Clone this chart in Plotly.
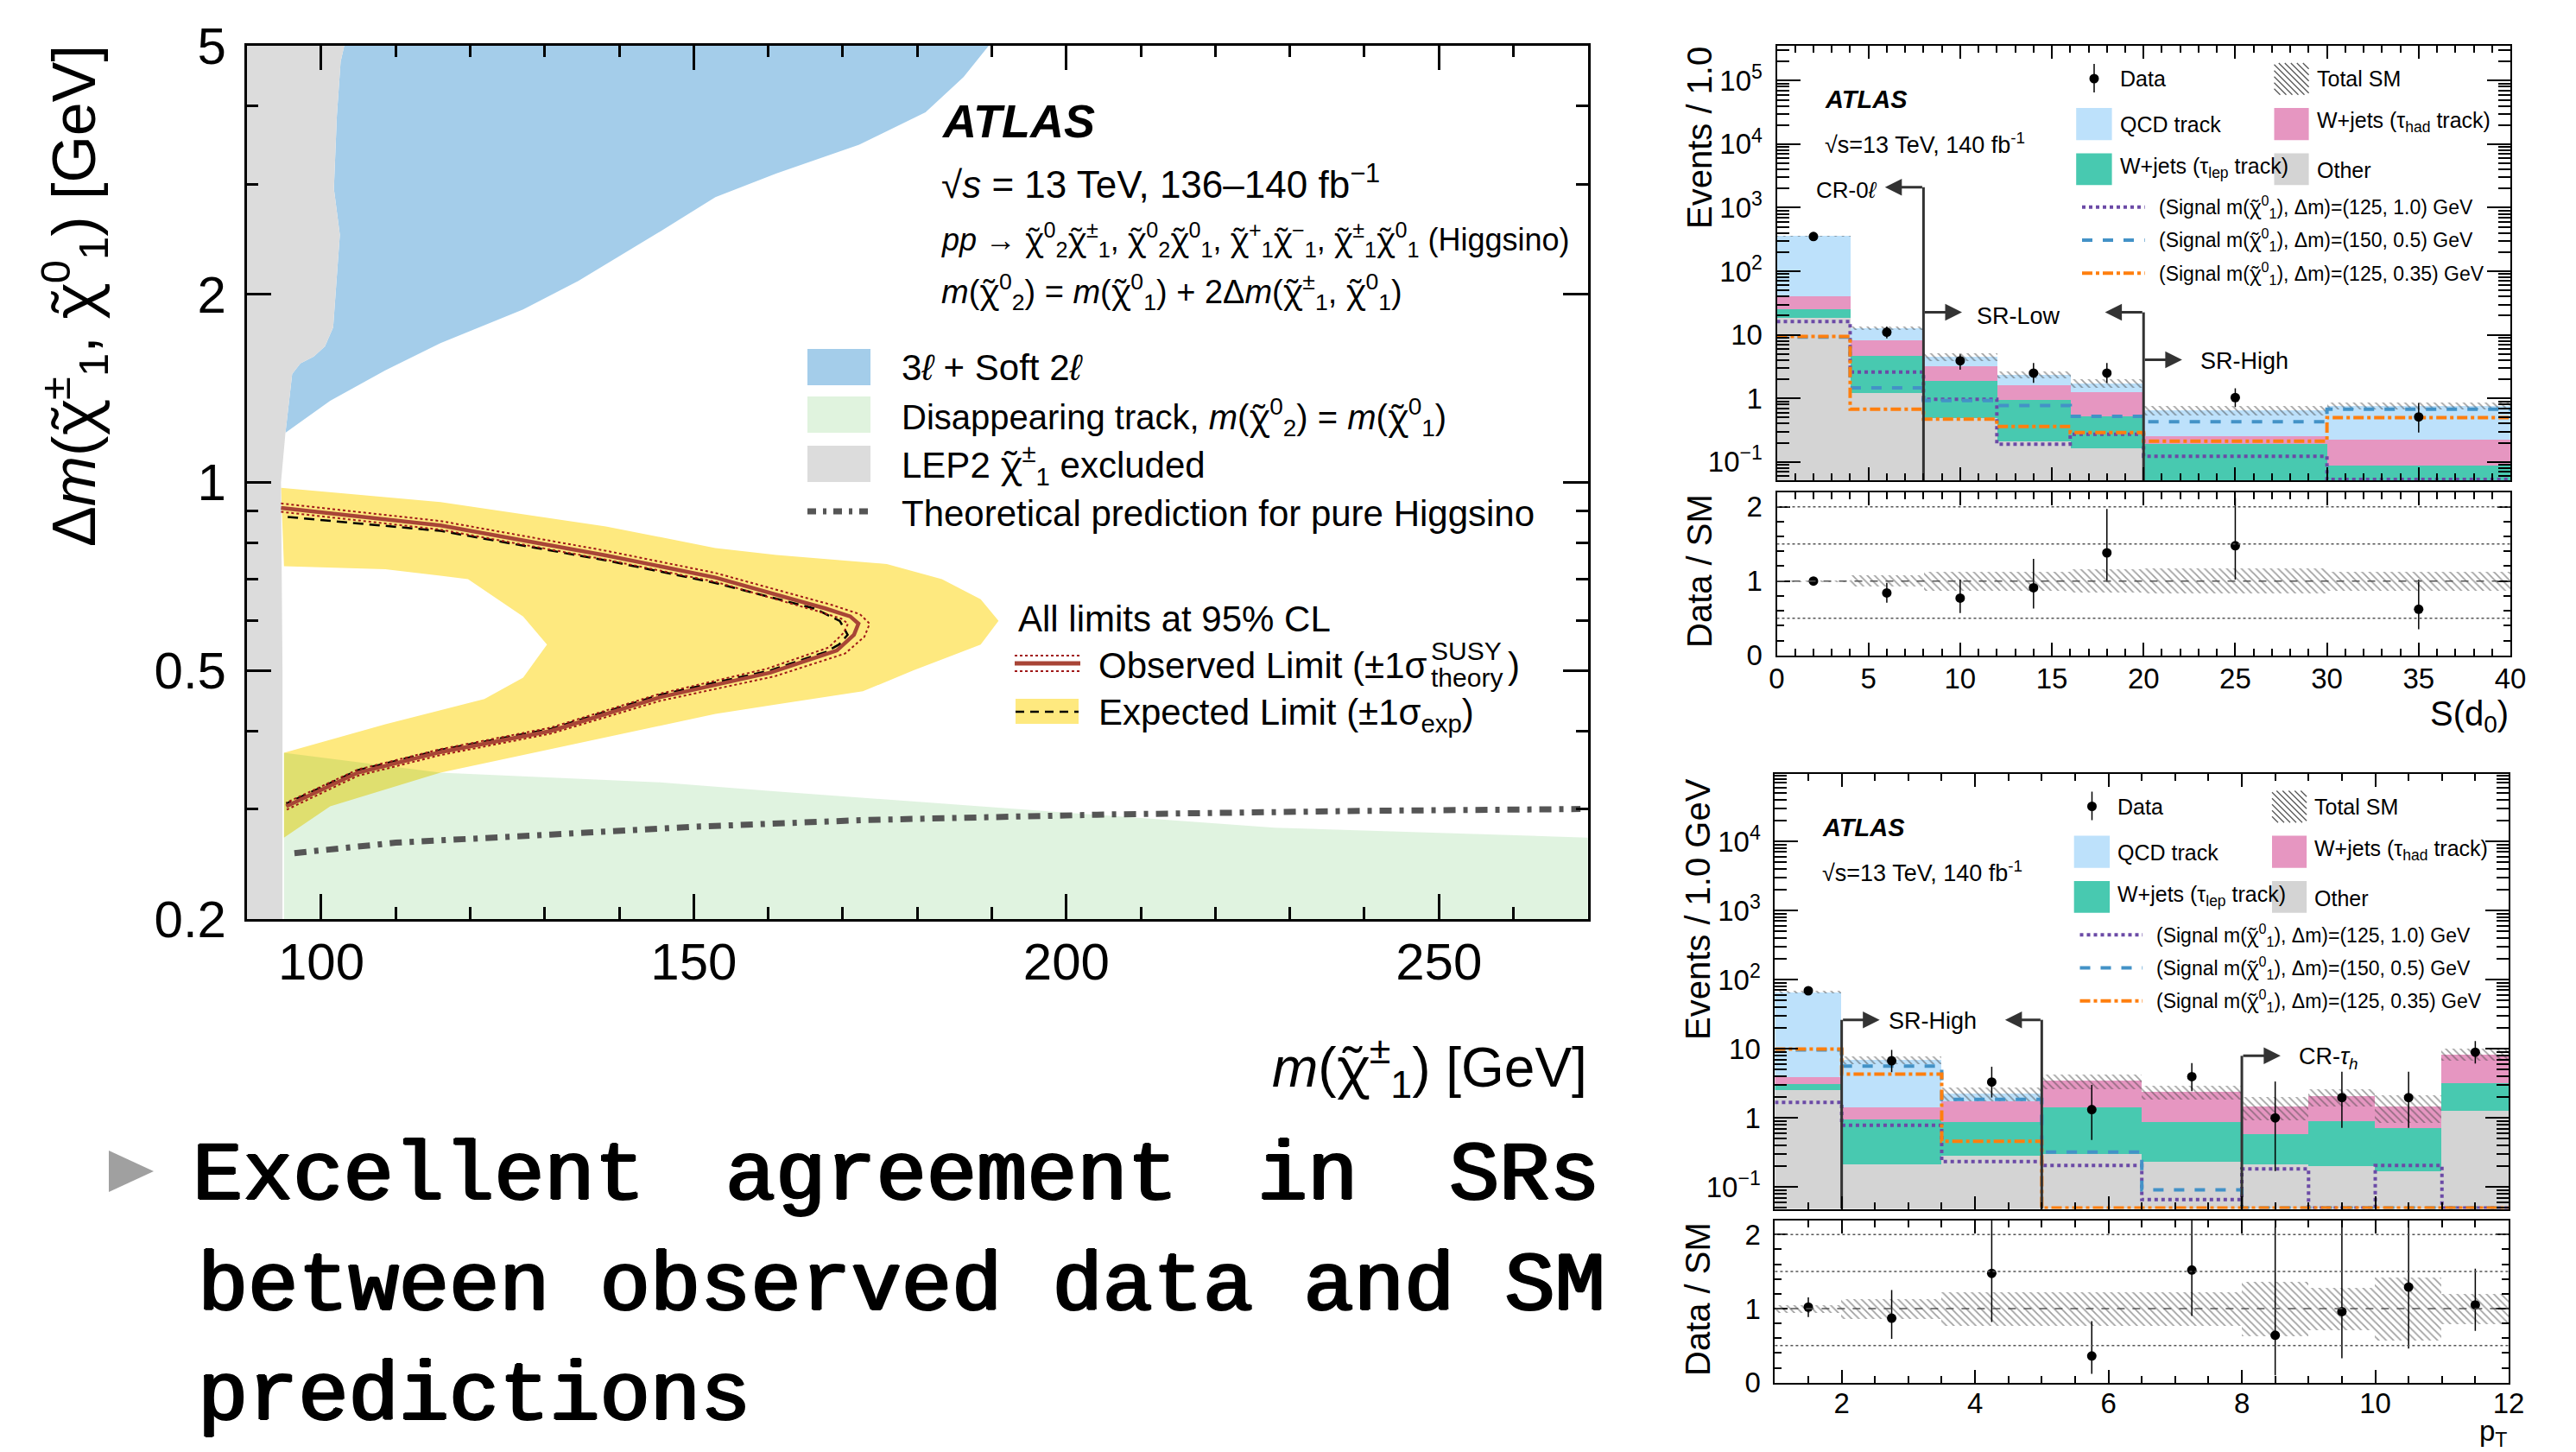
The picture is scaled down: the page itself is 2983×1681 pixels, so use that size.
import math
import plotly.graph_objects as go

W, H = 2983, 1681
FONT = "Liberation Sans, Arial, Helvetica, sans-serif"
MONO = "Liberation Mono, Courier New, monospace"


def px(x):
    return x / W


def py(y):
    return 1 - y / H


# ================= Left: exclusion contour data =================
# x: m(chi1+-) [GeV], y: Delta m [GeV]
lep_x = [103.1, 102.6, 102.1, 101.7, 102.5, 101.6, 100.5, 99.0, 97.2, 96.1, 95.2, 94.6, 94.8, 94.8]
lep_y = [5.0, 4.71, 3.86, 2.95, 2.49, 1.77, 1.65, 1.59, 1.55, 1.49, 1.20, 1.0, 0.5, 0.2]

soft_x = [189.6, 186.2, 181.1, 172.2, 161.1, 152.9, 145.5, 134.5, 127.1, 116.0, 108.6, 101.2, 95.2]
soft_y = [5.0, 4.45, 3.91, 3.47, 3.12, 2.86, 2.52, 2.10, 1.89, 1.67, 1.51, 1.35, 1.20]

band_out_x = [94.6, 116.0, 138.2, 152.9, 161.1, 175.9, 183.3, 188.5, 190.9, 188.5, 179.5, 172.7,
              161.1, 152.9, 130.8, 116.0, 101.2, 95.0]
band_out_y = [0.98, 0.93, 0.85, 0.785, 0.765, 0.74, 0.70, 0.65, 0.60, 0.55, 0.50, 0.463,
              0.441, 0.426, 0.374, 0.343, 0.303, 0.27]
band_in_x = [95.0, 108.6, 121.9, 127.1, 130.3, 127.1, 119.7, 108.6, 95.0]
band_in_y = [0.369, 0.41, 0.45, 0.487, 0.55, 0.61, 0.70, 0.726, 0.734]

disp_x = [95.0, 116.0, 145.5, 161.1, 205.0, 228.0, 270.0]
disp_y = [0.369, 0.343, 0.331, 0.32, 0.293, 0.28, 0.27]

theo_x = [96.4, 110.0, 130.8, 150.0, 172.7, 205.4, 240.0, 269.0]
theo_y = [0.255, 0.265, 0.273, 0.281, 0.288, 0.294, 0.298, 0.300]

obs_x = [94.6, 116.0, 138.2, 152.9, 167.7, 171.0, 172.1, 171.5, 169.2, 160.3, 145.5, 130.8, 116.0, 104.9, 95.3]
obs_y = [0.91, 0.853, 0.764, 0.704, 0.628, 0.61, 0.594, 0.57, 0.538, 0.496, 0.453, 0.40, 0.37, 0.343, 0.303]
obs_up_x = [94.6, 116.0, 138.2, 152.9, 168.6, 172.3, 173.6, 172.9, 170.3, 160.8, 145.5, 130.8, 116.0, 104.9, 95.3]
obs_up_y = [0.925, 0.867, 0.777, 0.716, 0.636, 0.615, 0.594, 0.566, 0.532, 0.489, 0.447, 0.396, 0.366, 0.339, 0.299]
obs_dn_x = [94.6, 116.0, 138.2, 152.9, 166.8, 169.8, 170.7, 170.1, 168.1, 159.8, 145.5, 130.8, 116.0, 104.9, 95.3]
obs_dn_y = [0.897, 0.840, 0.752, 0.693, 0.621, 0.605, 0.594, 0.574, 0.544, 0.503, 0.459, 0.405, 0.374, 0.347, 0.307]

exp_x = [95.5, 116.0, 138.2, 152.9, 166.2, 169.6, 170.65, 169.5, 167.7, 160.3, 145.5, 130.8, 116.0, 104.9, 95.3]
exp_y = [0.88, 0.836, 0.75, 0.69, 0.628, 0.60, 0.57, 0.55, 0.535, 0.50, 0.457, 0.403, 0.373, 0.346, 0.306]

# ================= Right top: S(d0) =================
sd0_edges = [0, 4, 8, 12, 16, 20, 30, 40]
sd0_other = [19.0, 1.21, 0.49, 0.21, 0.164, 0.0, 0.0]
sd0_wlep = [7.0, 3.49, 1.40, 0.74, 0.356, 0.195, 0.088]
sd0_whad = [14.7, 3.5, 1.31, 0.66, 0.75, 0.058, 0.14]
sd0_qcd = [322.0, 4.7, 1.35, 0.79, 0.48, 0.41, 0.55]
sd0_relerr = [0.01, 0.075, 0.13, 0.13, 0.155, 0.17, 0.125]
sd0_data_x = [2, 6, 10, 14, 18, 25, 35]
sd0_data = [352, 11.0, 3.9, 2.5, 2.5, 1.03, 0.51]
sd0_data_hi = [372, 13.5, 4.94, 3.6, 3.6, 1.44, 0.85]
sd0_data_lo = [333, 8.8, 2.82, 1.75, 1.75, 0.73, 0.29]
sd0_sig1 = [16.2, 2.6, 0.97, 0.19, 0.272, 0.123, 0.053]
sd0_sig2 = [9.2, 1.47, 0.92, 0.77, 0.52, 0.43, 0.675]
sd0_sig3 = [9.4, 0.675, 0.47, 0.36, 0.29, 0.212, 0.496]
sd0_ratio = [1.0, 0.84, 0.77, 0.91, 1.38, 1.475, 0.62]
sd0_ratio_hi = [1.02, 0.975, 1.02, 1.30, 1.97, 2.12, 1.02]
sd0_ratio_lo = [0.98, 0.71, 0.57, 0.63, 0.99, 1.02, 0.35]
sd0_tickvals = [0, 5, 10, 15, 20, 25, 30, 35, 40]

# ================= Right bottom: pT =================
pt_edges = [1, 2, 3.5, 5, 6.5, 8, 9, 10, 11, 12]
pt_other = [2.55, 0.215, 0.283, 0.30, 0.233, 0.215, 0.205, 0.169, 1.27]
pt_wlep = [0.55, 0.755, 0.60, 1.15, 0.647, 0.371, 0.715, 0.551, 1.93]
pt_whad = [0.85, 0.48, 0.88, 2.02, 1.55, 0.914, 1.15, 0.78, 5.25]
pt_qcd = [63.0, 5.55, 0.54, 0.0, 0.0, 0.0, 0.0, 0.0, 0.0]
pt_relerr = [0.05, 0.13, 0.23, 0.23, 0.23, 0.37, 0.29, 0.43, 0.2]
pt_data_x = [1.5, 2.75, 4.25, 5.75, 7.25, 8.5, 9.5, 10.5, 11.5]
pt_data = [69, 6.7, 3.3, 1.32, 3.95, 1.0, 1.97, 1.97, 8.9]
pt_data_hi = [77, 9.6, 5.5, 3.0, 6.2, 3.36, 4.65, 4.65, 12.9]
pt_data_lo = [62, 4.6, 1.97, 0.48, 2.43, 0.17, 0.72, 0.72, 6.1]
pt_sig1 = [1.68, 0.785, 0.233, 0.205, 0.066, 0.183, 0.05, 0.205, 0.05]
pt_sig2 = [9.6, 5.6, 1.85, 0.32, 0.091, 0.05, 0.05, 0.05, 0.05]
pt_sig3 = [9.9, 4.3, 0.46, 0.05, 0.05, 0.05, 0.05, 0.05, 0.05]
pt_ratio = [1.02, 0.87, 1.475, 0.36, 1.52, 0.64, 0.96, 1.29, 1.05]
pt_ratio_hi = [1.15, 1.25, 2.5, 0.83, 2.5, 2.11, 2.5, 2.5, 1.54]
pt_ratio_lo = [0.885, 0.59, 0.82, 0.12, 0.9, 0.1, 0.33, 0.46, 0.70]
pt_tickvals = [2, 4, 6, 8, 10, 12]

# region markers (x position, arrow level)
sd0_lines = [(8, 2100), (20, 22.6)]
sd0_arrows = [(8, 5.9, 2100), (8, 10.1, 22.6), (20, 17.9, 22.6), (20, 22.1, 4.05)]
pt_lines = [(2, 26.2), (5, 26.2), (8, 7.9)]
pt_arrows = [(2, 2.57, 26.2), (5, 4.45, 26.2), (8, 8.58, 7.9)]

# ================= colours =================
C_BLUE = "#a4cdea"
C_YELLOW = "#fee97f"
C_GREEN = "rgba(0,160,0,0.12)"
C_LEP = "#dcdcdc"
C_OBS = "#a84536"
C_OBS_DOT = "#a01818"
C_THEO = "#555555"
C_QCD = "#bde1fb"
C_THAD = "#e696c1"
C_TLEP = "#48c9b0"
C_OTHER = "#d4d4d4"
C_S1 = "#6b4aa6"
C_S2 = "#4392c7"
C_S3 = "#ff7f0e"

fig = go.Figure()

# ---------- left plot traces ----------
fig.add_trace(go.Scatter(
    x=soft_x + lep_x[:11][::-1], y=soft_y + lep_y[:11][::-1],
    fill="toself", fillcolor=C_BLUE, line=dict(width=0), mode="lines",
    xaxis="x", yaxis="y", hoverinfo="skip"))
fig.add_trace(go.Scatter(
    x=band_out_x + band_in_x, y=band_out_y + band_in_y,
    fill="toself", fillcolor=C_YELLOW, line=dict(width=0), mode="lines",
    xaxis="x", yaxis="y", hoverinfo="skip"))
fig.add_trace(go.Scatter(
    x=[disp_x[0]] + disp_x + [disp_x[-1]], y=[0.19] + disp_y + [0.19],
    fill="toself", fillcolor=C_GREEN, line=dict(width=0), mode="lines",
    xaxis="x", yaxis="y", hoverinfo="skip"))
fig.add_trace(go.Scatter(
    x=[88, lep_x[0]] + lep_x + [lep_x[-1], 88], y=[5.3, 5.3] + lep_y + [0.19, 0.19],
    fill="toself", fillcolor=C_LEP, line=dict(width=0), mode="lines",
    xaxis="x", yaxis="y", hoverinfo="skip"))
fig.add_trace(go.Scatter(
    x=theo_x, y=theo_y, mode="lines",
    line=dict(color=C_THEO, width=7, dash="14px,9px,5px,9px"),
    xaxis="x", yaxis="y", hoverinfo="skip"))
fig.add_trace(go.Scatter(
    x=exp_x, y=exp_y, mode="lines", line=dict(color="black", width=2.5, dash="12px,7px"),
    xaxis="x", yaxis="y", hoverinfo="skip"))
for xs, ys in [(obs_up_x, obs_up_y), (obs_dn_x, obs_dn_y)]:
    fig.add_trace(go.Scatter(
        x=xs, y=ys, mode="lines", line=dict(color=C_OBS_DOT, width=2, dash="dot"),
        xaxis="x", yaxis="y", hoverinfo="skip"))
fig.add_trace(go.Scatter(
    x=obs_x, y=obs_y, mode="lines", line=dict(color=C_OBS, width=4.5),
    xaxis="x", yaxis="y", hoverinfo="skip"))


# ---------- histogram helpers ----------
def add_hist(edges, comps, colors, relerr, sigs, dx, dy, dhi, dlo,
             ratio, rhi, rlo, xa, ya, xr, yr):
    centers = [(a + b) / 2 for a, b in zip(edges[:-1], edges[1:])]
    widths = [b - a for a, b in zip(edges[:-1], edges[1:])]
    base = [1e-3] * len(centers)
    for comp, col in zip(comps, colors):
        fig.add_trace(go.Bar(x=centers, y=comp, base=base, width=widths,
                             marker=dict(color=col, line=dict(width=0)),
                             xaxis=xa, yaxis=ya, hoverinfo="skip"))
        base = [b + c for b, c in zip(base, comp)]
    total = base
    pat = dict(shape="\\", fgcolor="#444444", bgcolor="rgba(0,0,0,0)", size=6, solidity=0.3)
    fig.add_trace(go.Bar(x=centers, y=[2 * t * e for t, e in zip(total, relerr)],
                         base=[t * (1 - e) for t, e in zip(total, relerr)], width=widths,
                         marker=dict(color="rgba(0,0,0,0)", line=dict(width=0), pattern=pat),
                         xaxis=xa, yaxis=ya, hoverinfo="skip"))
    for vals, col, dash in zip(sigs, [C_S1, C_S2, C_S3], ["dot", "dash", "dashdot"]):
        fig.add_trace(go.Scatter(x=edges, y=vals + [vals[-1]], mode="lines", line_shape="hv",
                                 line=dict(color=col, width=4, dash=dash),
                                 xaxis=xa, yaxis=ya, hoverinfo="skip"))
    fig.add_trace(go.Scatter(
        x=dx, y=dy, mode="markers",
        marker=dict(color="black", size=11),
        error_y=dict(type="data", symmetric=False,
                     array=[h - v for h, v in zip(dhi, dy)],
                     arrayminus=[v - l for l, v in zip(dlo, dy)],
                     color="black", thickness=1.5, width=0),
        xaxis=xa, yaxis=ya, hoverinfo="skip"))
    # ratio panel
    fig.add_trace(go.Bar(x=centers, y=[2 * e for e in relerr], base=[1 - e for e in relerr],
                         width=widths,
                         marker=dict(color="rgba(0,0,0,0)", line=dict(width=0), pattern=pat),
                         xaxis=xr, yaxis=yr, hoverinfo="skip"))
    fig.add_trace(go.Scatter(
        x=dx, y=ratio, mode="markers", marker=dict(color="black", size=11),
        error_y=dict(type="data", symmetric=False,
                     array=[h - v for h, v in zip(rhi, ratio)],
                     arrayminus=[v - l for l, v in zip(rlo, ratio)],
                     color="black", thickness=1.5, width=0),
        xaxis=xr, yaxis=yr, hoverinfo="skip"))


add_hist(sd0_edges, [sd0_other, sd0_wlep, sd0_whad, sd0_qcd], [C_OTHER, C_TLEP, C_THAD, C_QCD],
         sd0_relerr, [sd0_sig1, sd0_sig2, sd0_sig3], sd0_data_x, sd0_data, sd0_data_hi, sd0_data_lo,
         sd0_ratio, sd0_ratio_hi, sd0_ratio_lo, "x2", "y2", "x3", "y3")
add_hist(pt_edges, [pt_other, pt_wlep, pt_whad, pt_qcd], [C_OTHER, C_TLEP, C_THAD, C_QCD],
         pt_relerr, [pt_sig1, pt_sig2, pt_sig3], pt_data_x, pt_data, pt_data_hi, pt_data_lo,
         pt_ratio, pt_ratio_hi, pt_ratio_lo, "x4", "y4", "x5", "y5")

annotations = []
shapes = []

# region lines & arrows
for (lines, arrows, xa, ya, ymin) in [(sd0_lines, sd0_arrows, "x2", "y2", 10 ** -1.29),
                                       (pt_lines, pt_arrows, "x4", "y4", 10 ** -1.315)]:
    for xv, ytop in lines:
        fig.add_trace(go.Scatter(x=[xv, xv], y=[ymin, ytop], mode="lines",
                                 line=dict(color="#333333", width=3),
                                 xaxis=xa, yaxis=ya, hoverinfo="skip"))
    for xt, xh, yv in arrows:
        annotations.append(dict(x=xh, y=math.log10(yv), ax=xt, ay=math.log10(yv),
                                xref=xa, yref=ya, axref=xa, ayref=ya, text="",
                                showarrow=True, arrowhead=2, arrowsize=1.3, arrowwidth=3,
                                arrowcolor="#333333"))


def text(x, y, s, size, anchor="left", yanchor="middle", family=FONT, angle=0, color="black",
         shadow=None):
    font = dict(size=size, family=family, color=color)
    if shadow:
        font["shadow"] = shadow
    annotations.append(dict(x=px(x), y=py(y), xref="paper", yref="paper", text=s,
                            showarrow=False, xanchor=anchor, yanchor=yanchor, textangle=angle,
                            font=font))


def rect(x0, y0, x1, y1, color):
    shapes.append(dict(type="rect", xref="paper", yref="paper", x0=px(x0), x1=px(x1),
                       y0=py(y1), y1=py(y0), fillcolor=color, line=dict(width=0), layer="above"))


def hline(x0, x1, y, color, width, dash="solid"):
    shapes.append(dict(type="line", xref="paper", yref="paper", x0=px(x0), x1=px(x1),
                       y0=py(y), y1=py(y), line=dict(color=color, width=width, dash=dash),
                       layer="above"))


def hatch_box(x0, y0, x1, y1, step=7, color="#555555", width=1.3):
    w, h = x1 - x0, y1 - y0
    c = -h
    while c < w:
        sx, sy, ex, ey = x0 + c, y0, x0 + c + h, y1
        if sx < x0:
            sy += x0 - sx
            sx = x0
        if ex > x1:
            ey -= ex - x1
            ex = x1
        shapes.append(dict(type="line", xref="paper", yref="paper", x0=px(sx), x1=px(ex),
                           y0=py(sy), y1=py(ey), line=dict(color=color, width=width),
                           layer="above"))
        c += step


# ---------- left plot texts / legend ----------
CHI = "<span style='font-family:Noto Sans'>χ̃</span>"
text(1088, 140, "<b><i>ATLAS</i></b>", 54)
text(1088, 210, "√<i>s</i> = 13 TeV, 136–140 fb<sup>−1</sup>", 44)
text(1088, 277, f"<i>pp</i> → {CHI}<sup>0</sup><sub>2</sub>{CHI}<sup>±</sup><sub>1</sub>, "
                f"{CHI}<sup>0</sup><sub>2</sub>{CHI}<sup>0</sup><sub>1</sub>, "
                f"{CHI}<sup>+</sup><sub>1</sub>{CHI}<sup>−</sup><sub>1</sub>, "
                f"{CHI}<sup>±</sup><sub>1</sub>{CHI}<sup>0</sup><sub>1</sub> (Higgsino)", 36)
text(1088, 337, f"<i>m</i>({CHI}<sup>0</sup><sub>2</sub>) = <i>m</i>({CHI}<sup>0</sup><sub>1</sub>)"
                f" + 2Δ<i>m</i>({CHI}<sup>±</sup><sub>1</sub>, {CHI}<sup>0</sup><sub>1</sub>)", 38)
rect(935, 404, 1008, 446, C_BLUE)
rect(935, 459, 1008, 501, "#e0f3de")
rect(935, 516, 1008, 558, C_LEP)
hline(935, 1005, 592, C_THEO, 7, "10px,8px,4px,8px")
text(1042, 426, "3<i>ℓ</i> + Soft 2<i>ℓ</i>", 42)
text(1042, 482, f"Disappearing track, <i>m</i>({CHI}<sup>0</sup><sub>2</sub>) = "
                f"<i>m</i>({CHI}<sup>0</sup><sub>1</sub>)", 40)
text(1042, 538, f"LEP2 {CHI}<sup>±</sup><sub>1</sub> excluded", 42)
text(1042, 594, "Theoretical prediction for pure Higgsino", 42)
text(1177, 717, "All limits at 95% CL", 42)
hline(1175, 1251, 768, C_OBS, 5)
hline(1175, 1251, 759, C_OBS_DOT, 2, "dot")
hline(1175, 1251, 777, C_OBS_DOT, 2, "dot")
text(1270, 770, "Observed Limit (±1σ", 42)
text(1655, 753, "SUSY", 30)
text(1655, 785, "theory", 30)
text(1744, 770, ")", 42)
rect(1176, 809, 1249, 838, C_YELLOW)
hline(1176, 1249, 824, "black", 2.5, "10px,7px")
text(1270, 827, "Expected Limit (±1σ<sub>exp</sub>)", 42)
text(85, 343, f"Δ<i>m</i>({CHI}<sup>±</sup><sub>1</sub>, {CHI}<sup>0</sup><sub>1</sub>) [GeV]",
     70, anchor="center", angle=-90)
text(1840, 1235, f"<i>m</i>({CHI}<sup>±</sup><sub>1</sub>) [GeV]", 64, anchor="right")


# ---------- right plots legends ----------
def hist_legend(dx, dy):
    shapes.append(dict(type="line", xref="paper", yref="paper", x0=px(2425 + dx), x1=px(2425 + dx),
                       y0=py(74 + dy), y1=py(107 + dy), line=dict(color="black", width=1.5),
                       layer="above"))
    shapes.append(dict(type="circle", xref="paper", yref="paper", x0=px(2419.5 + dx),
                       x1=px(2430.5 + dx), y0=py(96.5 + dy), y1=py(85.5 + dy),
                       fillcolor="black", line=dict(width=0), layer="above"))
    text(2452.6 + dx, 91 + dy, "Data", 25)
    hatch_box(2633.5 + dx, 73 + dy, 2673.6 + dx, 109.7 + dy)
    text(2680.5 + dx, 91 + dy, "Total SM", 25)
    rect(2404.2 + dx, 125 + dy, 2445.6 + dx, 162.2 + dy, C_QCD)
    text(2452.6 + dx, 144 + dy, "QCD track", 25)
    rect(2633.5 + dx, 125 + dy, 2673.6 + dx, 162.2 + dy, C_THAD)
    text(2680.5 + dx, 141 + dy, "W+jets (τ<sub>had</sub> track)", 25)
    rect(2404.2 + dx, 177.6 + dy, 2445.6 + dx, 214.3 + dy, C_TLEP)
    text(2452.6 + dx, 194 + dy, "W+jets (τ<sub>lep</sub> track)", 25)
    rect(2633.5 + dx, 177.6 + dy, 2673.6 + dx, 214.3 + dy, C_OTHER)
    text(2680.5 + dx, 197 + dy, "Other", 25)
    sig_labels = [f"(Signal m({CHI}<sup>0</sup><sub>1</sub>), Δm)=(125, 1.0) GeV",
                  f"(Signal m({CHI}<sup>0</sup><sub>1</sub>), Δm)=(150, 0.5) GeV",
                  f"(Signal m({CHI}<sup>0</sup><sub>1</sub>), Δm)=(125, 0.35) GeV"]
    for yy, col, dash, lab in zip([239.8, 278, 316.3], [C_S1, C_S2, C_S3],
                                  ["dot", "dash", "dashdot"], sig_labels):
        hline(2411 + dx, 2483.6 + dx, yy + dy, col, 4, dash)
        text(2497.5 + dx, yy + dy, lab, 23)
    text(2110.7 + dx, 115 + dy, "<b><i>ATLAS</i></b>", 29)
    text(2110.7 + dx, 166 + dy, "√s=13 TeV, 140 fb<sup>-1</sup>", 27)


hist_legend(0, 0)
hist_legend(-2.5, 842.5)

text(2176, 220, "CR-0<i>ℓ</i>", 26, anchor="right")
text(2287, 366, "SR-Low", 27)
text(2546, 418, "SR-High", 27)
text(2185, 1182, "SR-High", 27)
text(2660, 1225, "CR-<i>τ<sub>h</sub></i>", 27)

text(1968, 160, "Events / 1.0", 40, anchor="center", angle=-90)
text(1968, 661, "Data / SM", 40, anchor="center", angle=-90)
text(1966, 1052, "Events / 1.0 GeV", 40, anchor="center", angle=-90)
text(1966, 1504, "Data / SM", 40, anchor="center", angle=-90)
text(2907, 829, "S(d<sub>0</sub>)", 40, anchor="right")
text(2905, 1659, "p<sub>T</sub>", 33, anchor="right")

# ratio reference lines
for xr, yr in [("x3", "y3"), ("x5", "y5")]:
    for yv, dash in [(0.5, "dot"), (1.5, "dot"), (2.0, "dot"), (1.0, "dash")]:
        shapes.append(dict(type="line", xref=f"{xr} domain", yref=yr, x0=0, x1=1, y0=yv, y1=yv,
                           line=dict(color="#555555", width=1.5, dash=dash), layer="above"))

# ---------- bullet text ----------
shapes.append(dict(type="path", xref="paper", yref="paper",
                   path=f"M {px(126)},{py(1332)} L {px(178)},{py(1356)} L {px(126)},{py(1380)} Z",
                   fillcolor="#a0a0a0", line=dict(width=0)))
THICK = "1.6px 0 0 black, -1.6px 0 0 black, 0 1.2px 0 black, 0 -1.2px 0 black"
for word, xw in [("Excellent", 221), ("agreement", 838), ("in", 1454), ("SRs", 1676)]:
    text(xw, 1362, word, 97, family=MONO, shadow=THICK)
text(227, 1490, "between observed data and SM", 97, family=MONO, shadow=THICK)
text(227, 1617, "predictions", 97, family=MONO, shadow=THICK)


# ---------- axes ----------
def ax(**kw):
    d = dict(showgrid=False, zeroline=False, showline=True, linecolor="black", mirror="allticks",
             ticks="inside", tickcolor="black", automargin=False)
    d.update(kw)
    return d


def log_minor(lo, hi):
    return [m * 10 ** k for k in range(lo, hi) for m in range(2, 10)]


SMALL = dict(size=33, family=FONT)
layout_axes = dict(
    xaxis=ax(domain=[px(285.7), px(1838.8)], range=[90, 270], anchor="y",
             tickmode="array", tickvals=[100, 150, 200, 250], ticklen=29, tickwidth=2.5,
             linewidth=2.5, tickfont=dict(size=60, family=FONT), ticklabelstandoff=-5,
             minor=dict(tickmode="array", tickvals=list(range(90, 271, 10)), ticklen=14,
                        tickwidth=2.5, ticks="inside", tickcolor="black")),
    yaxis=ax(type="log", domain=[py(1064), py(52.7)], range=[math.log10(0.2), math.log10(5)],
             anchor="x", tickmode="array", tickvals=[0.2, 0.5, 1, 2, 5],
             ticktext=["0.2", "0.5", "1", "2", "5"], ticklen=29, tickwidth=2.5, linewidth=2.5,
             tickfont=dict(size=60, family=FONT), ticklabelstandoff=9,
             minor=dict(tickmode="array", tickvals=[0.3, 0.4, 0.6, 0.7, 0.8, 0.9, 3, 4],
                        ticklen=14, tickwidth=2.5, ticks="inside", tickcolor="black")),
    xaxis2=ax(domain=[px(2057.5), px(2907)], range=[0, 40], anchor="y2", showticklabels=False,
              tickmode="array", tickvals=sd0_tickvals, ticklen=15, tickwidth=1.5, linewidth=2,
              minor=dict(dtick=1, ticklen=8, tickwidth=1.5, ticks="inside", tickcolor="black")),
    yaxis2=ax(type="log", domain=[py(556.1), py(52.6)], range=[-1.29, 5.554], anchor="x2",
              tickmode="array", tickvals=[0.1, 1, 10, 100, 1e3, 1e4, 1e5],
              ticktext=["10<sup>−1</sup>", "1", "10", "10<sup>2</sup>", "10<sup>3</sup>",
                        "10<sup>4</sup>", "10<sup>5</sup>"],
              ticklen=27, tickwidth=1.5, linewidth=2, tickfont=SMALL, ticklabelstandoff=8,
              minor=dict(tickmode="array", tickvals=log_minor(-2, 6), ticklen=14, tickwidth=1.5,
                         ticks="inside", tickcolor="black")),
    xaxis3=ax(domain=[px(2057.5), px(2907)], range=[0, 40], anchor="y3",
              tickmode="array", tickvals=sd0_tickvals, ticklen=15, tickwidth=1.5, linewidth=2,
              tickfont=SMALL, ticklabelstandoff=-3,
              minor=dict(dtick=1, ticklen=8, tickwidth=1.5, ticks="inside", tickcolor="black")),
    yaxis3=ax(domain=[py(758.7), py(569.9)], range=[0, 2.195], anchor="x3",
              tickmode="array", tickvals=[0, 1, 2], ticklen=15, tickwidth=1.5, linewidth=2,
              tickfont=SMALL, ticklabelstandoff=8,
              minor=dict(dtick=0.2, ticklen=8, tickwidth=1.5, ticks="inside", tickcolor="black")),
    xaxis4=ax(domain=[px(2055.4), px(2905)], range=[1, 12], anchor="y4", showticklabels=False,
              tickmode="array", tickvals=pt_tickvals, ticklen=15, tickwidth=1.5, linewidth=2,
              minor=dict(dtick=0.5, ticklen=8, tickwidth=1.5, ticks="inside", tickcolor="black")),
    yaxis4=ax(type="log", domain=[py(1399.5), py(895.5)], range=[-1.315, 4.98], anchor="x4",
              tickmode="array", tickvals=[0.1, 1, 10, 100, 1e3, 1e4],
              ticktext=["10<sup>−1</sup>", "1", "10", "10<sup>2</sup>", "10<sup>3</sup>",
                        "10<sup>4</sup>"],
              ticklen=27, tickwidth=1.5, linewidth=2, tickfont=SMALL, ticklabelstandoff=8,
              minor=dict(tickmode="array", tickvals=log_minor(-2, 5), ticklen=14, tickwidth=1.5,
                         ticks="inside", tickcolor="black")),
    xaxis5=ax(domain=[px(2055.4), px(2905)], range=[1, 12], anchor="y5",
              tickmode="array", tickvals=pt_tickvals, ticklen=15, tickwidth=1.5, linewidth=2,
              tickfont=SMALL, ticklabelstandoff=-6,
              minor=dict(dtick=0.5, ticklen=8, tickwidth=1.5, ticks="inside", tickcolor="black")),
    yaxis5=ax(domain=[py(1600.7), py(1412.5)], range=[0, 2.195], anchor="x5",
              tickmode="array", tickvals=[0, 1, 2], ticklen=15, tickwidth=1.5, linewidth=2,
              tickfont=SMALL, ticklabelstandoff=8,
              minor=dict(dtick=0.2, ticklen=8, tickwidth=1.5, ticks="inside", tickcolor="black")),
)

fig.update_layout(
    width=W, height=H, margin=dict(l=0, r=0, t=0, b=0, pad=0, autoexpand=False),
    paper_bgcolor="white", plot_bgcolor="rgba(0,0,0,0)",
    showlegend=False, barmode="overlay", bargap=0,
    font=dict(family=FONT, color="black"),
    annotations=annotations, shapes=shapes,
    **layout_axes,
)

fig.write_html("out.html", config={"displayModeBar": False},
               post_script="document.body.style.margin='0px';document.body.style.overflow='hidden';")
